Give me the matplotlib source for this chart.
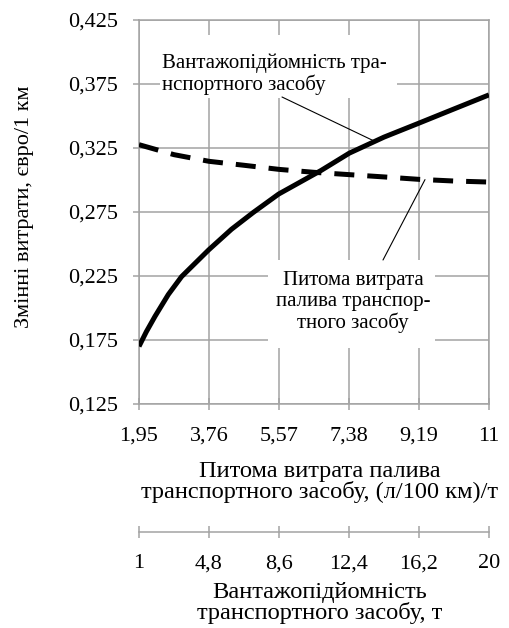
import matplotlib
matplotlib.use("Agg")
import matplotlib.pyplot as plt
from matplotlib.patches import Rectangle

plt.rcParams['font.family'] = ['Liberation Serif', 'DejaVu Serif']

# ---- data ----
fuel_ticks = [1.95, 3.76, 5.57, 7.38, 9.19, 11.0]
fuel_tick_labels = ["1,95", "3,76", "5,57", "7,38", "9,19", "11"]
cap_ticks = [1, 4.8, 8.6, 12.4, 16.2, 20]
cap_tick_labels = ["1", "4,8", "8,6", "12,4", "16,2", "20"]
y_ticks = [0.125, 0.175, 0.225, 0.275, 0.325, 0.375, 0.425]
y_tick_labels = ["0,125", "0,175", "0,225", "0,275", "0,325", "0,375", "0,425"]

# cost vs specific fuel consumption (dashed)
fuel_x = [1.95, 2.855, 3.76, 4.665, 5.57, 6.475, 7.38, 8.285, 9.19, 10.095, 11.0]
fuel_cost = [0.3276, 0.3198, 0.3146, 0.3115, 0.3083, 0.306, 0.3042, 0.3024, 0.3005, 0.2992, 0.2984]

# cost vs load capacity (solid)
cap_x = [1.0, 1.4, 1.87, 2.59, 3.31, 4.79, 6.02, 7.19, 8.58, 10.89, 12.42, 14.3, 16.21, 18.1, 20.0]
cap_cost = [0.170, 0.1815, 0.1935, 0.2105, 0.2245, 0.2455, 0.2615, 0.2745, 0.289, 0.3075,
            0.321, 0.3335, 0.3445, 0.3555, 0.3665]

ann1_text = "Вантажопідйомність тра-\nнспортного засобу"
ann2_text = "Питома витрата\nпалива транспор-\nтного засобу"
ylabel = "Змінні витрати, євро/1 км"
xlabel1 = "Питома витрата палива\nтранспортного засобу, (л/100 км)/т"
xlabel2 = "Вантажопідйомність\nтранспортного засобу, т"

# ---- figure ----
W, H = 510, 628
fig = plt.figure(figsize=(W / 100, H / 100), dpi=100)
L, R, T, B = 139, 489, 20, 404
ax = fig.add_axes([L / W, 1 - B / H, (R - L) / W, (B - T) / H])

grid_c = '#a3a3a3'
FS = 16
TFS = 17.6

ax.set_xlim(fuel_ticks[0], fuel_ticks[-1])
ax.set_ylim(y_ticks[0], y_ticks[-1])
ax.set_xticks(fuel_ticks)
ax.set_xticklabels(fuel_tick_labels)
ax.set_yticks(y_ticks)
ax.set_yticklabels(y_tick_labels)
ax.grid(True, color=grid_c, lw=1.1)
ax.set_axisbelow(True)
for s in ax.spines.values():
    s.set_color(grid_c)
    s.set_linewidth(1.1)
ax.tick_params(axis='x', direction='inout', length=8.6, width=1.1, color=grid_c,
               pad=12, labelsize=FS)
ax.tick_params(axis='y', direction='out', length=4.3, width=1.1, color=grid_c,
               pad=11, labelsize=FS)

ax.plot(fuel_x, fuel_cost, color='black', lw=3.6, linestyle=(0, (4, 2.6)),
        dash_capstyle='butt', zorder=3)

# second (capacity) axis
ax2 = ax.twiny()
ax2.set_xlim(cap_ticks[0], cap_ticks[-1])
ax2.set_ylim(y_ticks[0], y_ticks[-1])
ax2.xaxis.set_ticks_position('bottom')
ax2.xaxis.set_label_position('bottom')
ax2.spines['bottom'].set_position(('outward', 128 * 0.72))
for k in ['top', 'left', 'right']:
    ax2.spines[k].set_visible(False)
ax2.spines['bottom'].set_color(grid_c)
ax2.spines['bottom'].set_linewidth(1.1)
ax2.set_xticks(cap_ticks)
ax2.set_xticklabels(cap_tick_labels)
ax2.tick_params(axis='x', direction='inout', length=8, width=1.1, color=grid_c,
                pad=12, labelsize=FS)
ax2.patch.set_visible(False)
ax2.plot(cap_x, cap_cost, color='black', lw=3.6, solid_capstyle='butt',
         solid_joinstyle='round', zorder=3)

# white label boxes
def px2ax(x, y):
    return ((x - L) / (R - L), (B - y) / (B - T))

x0, y0 = px2ax(160, 98); x1, y1 = px2ax(397, 35)
ax.add_patch(Rectangle((x0, y0), x1 - x0, y1 - y0, transform=ax.transAxes,
                       facecolor='white', edgecolor='none', zorder=1.5))
x0, y0 = px2ax(268, 348); x1, y1 = px2ax(435, 260)
ax.add_patch(Rectangle((x0, y0), x1 - x0, y1 - y0, transform=ax.transAxes,
                       facecolor='white', edgecolor='none', zorder=1.5))

tx, ty = px2ax(162, 74)
ax.text(tx, ty, ann1_text, transform=ax.transAxes, ha='left', va='center',
        multialignment='left', fontsize=15, linespacing=1.1, zorder=4)
tx, ty = px2ax(353, 302)
ax.text(tx, ty, ann2_text, transform=ax.transAxes, ha='center', va='center',
        multialignment='center', fontsize=15, linespacing=1.1, zorder=4)

# leader lines
sx, sy = px2ax(282, 97)
ax.annotate('', xy=(13.8, 0.3302), xycoords=ax2.transData,
            xytext=(sx, sy), textcoords='axes fraction',
            arrowprops=dict(arrowstyle='-', lw=0.8, color='black',
                            shrinkA=0, shrinkB=0), zorder=4)
sx, sy = px2ax(383, 260)
ax.annotate('', xy=(9.345, 0.3003), xycoords='data',
            xytext=(sx, sy), textcoords='axes fraction',
            arrowprops=dict(arrowstyle='-', lw=0.8, color='black',
                            shrinkA=0, shrinkB=0), zorder=4)

# axis titles
fig.text(25 / W, 1 - 207 / H, ylabel, rotation=90, ha='center', va='center',
         fontsize=FS)
fig.text(320 / W, 1 - 482 / H, xlabel1, ha='center', va='center',
         fontsize=TFS, linespacing=0.9)
fig.text(320 / W, 1 - 603 / H, xlabel2, ha='center', va='center',
         fontsize=TFS, linespacing=0.9)

fig.savefig("out.png", dpi=100)
